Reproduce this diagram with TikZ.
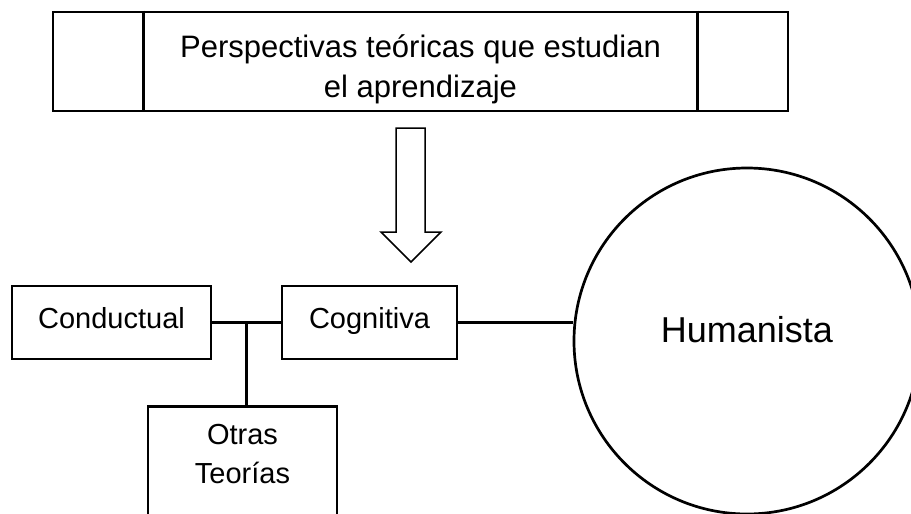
\documentclass[tikz,border=0pt]{standalone}
\usepackage{fontspec}
\setmainfont{Liberation Sans}
\usetikzlibrary{calc}

\begin{document}
\begin{tikzpicture}[x=1pt, y=-1pt,
        caja/.style={draw, line width=2.8pt, inner sep=0pt, font=\fontsize{29}{39}\selectfont},
        linea/.style={line width=3pt}]
        \def \Fl {396};
        \def \Fr {425};
        \def \Ft {128};
        \def \Fw {232};
        \def \Hl {381};
        \def \Hr {441};
        \def \Px {411};
        \def \Py {262};

        % marco
        \useasboundingbox ( 0, 0 ) rectangle ( 911, 514 );
        \clip ( 0, 0 ) rectangle ( 911, 514 );

        % titulo
        \node [caja, minimum width=735pt, minimum height=99pt, align=center,
               font=\fontsize{31}{40}\selectfont, text height=77pt, text depth=6pt]
              (titulo) at ( 420.5, 61.5 ) {Perspectivas teóricas que estudian\\el aprendizaje};
        \draw [line width=2.8pt] ([xshift=92pt]titulo.north west) -- ([xshift=92pt]titulo.south west);
        \draw [line width=2.8pt] ([xshift=-92pt]titulo.north east) -- ([xshift=-92pt]titulo.south east);

        % flecha
        \draw [line width=1.5pt] ( \Fl, \Ft ) -- ( \Fr, \Ft ) -- ( \Fr, \Fw ) -- ( \Hr, \Fw )
              -- ( \Px, \Py ) -- ( \Hl, \Fw ) -- ( \Fl, \Fw ) -- cycle;

        % teorias
        \node [caja, minimum width=199pt, minimum height=73pt, text height=22pt, text depth=11pt]
              (conductual) at ( 111.5, 322.5 ) {Conductual};
        \node [caja, minimum width=175pt, minimum height=73pt, text height=22pt, text depth=11pt]
              (cognitiva) at ( 369.5, 322.5 ) {Cognitiva};
        \node [caja, anchor=north, minimum width=189pt, align=center, text height=77pt, text depth=90pt]
              (otras) at ( 242.5, 405 ) {Otras\\Teorías};
        \node [draw, circle, line width=2.7pt, minimum size=346pt, inner sep=0pt,
               font=\fontsize{36}{40}\selectfont, text height=27pt, text depth=25pt]
              (humanista) at ( 747, 341 ) {Humanista};

        % uniones
        \coordinate (cruce) at ( $ (conductual.east)!0.5!(cognitiva.west) $ );
        \draw [linea] (conductual.east) -- (cognitiva.west);
        \draw [linea] (cruce) -- (cruce |- otras.north);
        \draw [linea] (cognitiva.east) -- (cognitiva.east -| humanista.west);
    \end{tikzpicture}
\end{document}
